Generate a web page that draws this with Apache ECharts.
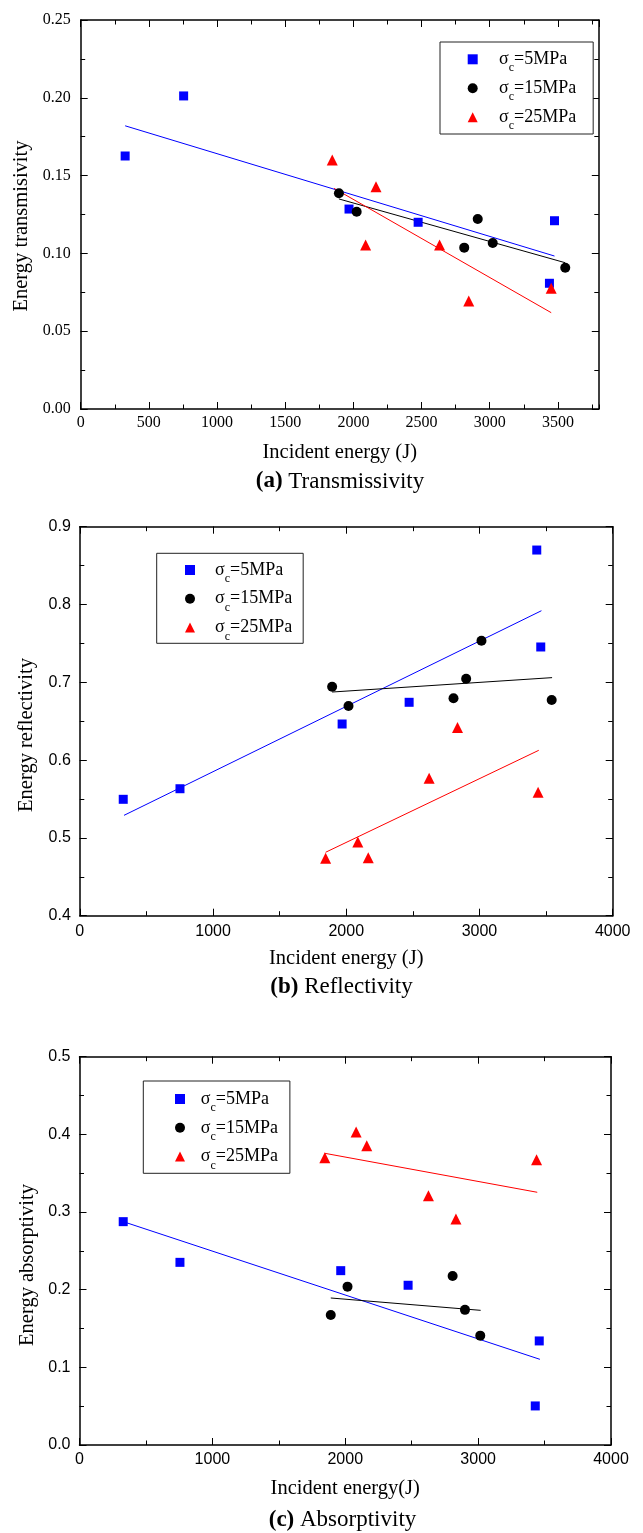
<!DOCTYPE html>
<html>
<head>
<meta charset="utf-8">
<script src="https://cdn.jsdelivr.net/npm/echarts@6/dist/echarts.min.js"></script>
<style>
html,body{margin:0;padding:0;background:#fff;}
#chart{width:643px;height:1533px;}
</style>
</head>
<body>
<div id="chart"></div>
<script>
// ================= DATA =================
const seriesNames = ['σc=5MPa', 'σc=15MPa', 'σc=25MPa'];

// (a) Transmissivity  (incident energy J, energy transmissivity)
const transE5  = [326, 755, 1968, 2475, 3475, 3438];
const transV5  = [0.1626, 0.2012, 0.1285, 0.1200, 0.1210, 0.0808];
const transE15 = [1894, 2024, 2813, 2912, 3022, 3554];
const transV15 = [0.1386, 0.1268, 0.1037, 0.1221, 0.1067, 0.0908];
const transE25 = [1845, 2090, 2166, 2632, 2846, 3451];
const transV25 = [0.1600, 0.1054, 0.1429, 0.1054, 0.0694, 0.0776];
const transFitE5  = [326, 3475];  const transFitV5  = [0.1820, 0.0983];
const transFitE15 = [1894, 3554]; const transFitV15 = [0.1350, 0.0940];
const transFitE25 = [1858, 3451]; const transFitV25 = [0.1418, 0.0619];

// (b) Reflectivity
const reflE5  = [326, 752, 1969, 2472, 3430, 3460];
const reflV5  = [0.5496, 0.5632, 0.6464, 0.6743, 0.8700, 0.7454];
const reflE15 = [1894, 2017, 2805, 2900, 3015, 3542];
const reflV15 = [0.6943, 0.6695, 0.6794, 0.7046, 0.7535, 0.6772];
const reflE25 = [1845, 2087, 2165, 2622, 2835, 3440];
const reflV25 = [0.4738, 0.4947, 0.4746, 0.5766, 0.6420, 0.5586];
const reflFitE5  = [332, 3465];  const reflFitV5  = [0.5290, 0.7920];
const reflFitE15 = [1894, 3545]; const reflFitV15 = [0.6875, 0.7060];
const reflFitE25 = [1845, 3445]; const reflFitV25 = [0.4815, 0.6126];

// (c) Absorptivity
const absE5  = [329, 756, 1966, 2473, 3460, 3430];
const absV5  = [0.2876, 0.2352, 0.2245, 0.2057, 0.1340, 0.0503];
const absE15 = [1891, 2017, 2808, 2901, 3016];
const absV15 = [0.1674, 0.2039, 0.2177, 0.1740, 0.1408];
const absE25 = [1846, 2082, 2162, 2626, 2833, 3440];
const absV25 = [0.3700, 0.4030, 0.3854, 0.3210, 0.2910, 0.3674];
const absFitE5  = [329, 3465];  const absFitV5  = [0.2876, 0.1103];
const absFitE15 = [1891, 3019]; const absFitV15 = [0.1893, 0.1734];
const absFitE25 = [1846, 3445]; const absFitV25 = [0.3756, 0.3254];

// axis ranges / tick steps
const transXRange = [0, 3800, 500, 250];   // min, max, major, minor
const transYRange = [0, 0.25, 0.05, 0.025];
const reflXRange  = [0, 4000, 1000, 500];
const reflYRange  = [0.4, 0.9, 0.1, 0.05];
const absXRange   = [0, 4000, 1000, 500];
const absYRange   = [0, 0.5, 0.1, 0.05];

// texts
const xTitles  = ['Incident energy (J)', 'Incident energy (J)', 'Incident energy(J)'];
const yTitles  = ['Energy transmisivity', 'Energy reflectivity', 'Energy absorptivity'];
const capTags  = ['(a)', '(b)', '(c)'];
const capTexts = ['Transmissivity', 'Reflectivity', 'Absorptivity'];
const yDecimals = [2, 1, 1];

// ================= LAYOUT / STYLE =================
const SERIF = '"Liberation Serif","Times New Roman",serif';
const SANS = '"Liberation Sans",Arial,sans-serif';
const colors = ['#0000ff', '#000000', '#ff0000'];
const symbols = ['rect', 'circle', 'triangle'];
const symbolSizes = [9, 10, 11];

const layouts = [
  {grid:{left:80.7, top:20, width:518.1, height:389}, tickFont:SERIF, xLM:6, yLM:10, nameGap:33,
   legend:{left:440, top:42, padding:[2.3,17,1.7,27.7], gap:-1, textPad:16.3},
   yTitle:[22, 226], caption:[340, 481.5], showMaxX:false},
  {grid:{left:79.8, top:526.7, width:532.9, height:389}, tickFont:SANS, xLM:8, yLM:9, nameGap:32,
   legend:{left:156.7, top:553.3, padding:[1.7,11,0.9,28.3], gap:-1.3, textPad:15},
   yTitle:[27, 735], caption:[341.5, 987], showMaxX:true},
  {grid:{left:79.5, top:1056.7, width:531.5, height:388.3}, tickFont:SANS, xLM:7, yLM:9, nameGap:33,
   legend:{left:143.3, top:1081, padding:[3,12,1.7,31.7], gap:-1.2, textPad:10.7},
   yTitle:[28, 1265], caption:[342.5, 1520], showMaxX:true}
];

const panelData = [
  {xr:transXRange, yr:transYRange,
   pts:[[transE5,transV5],[transE15,transV15],[transE25,transV25]],
   fits:[[transFitE5,transFitV5],[transFitE15,transFitV15],[transFitE25,transFitV25]]},
  {xr:reflXRange, yr:reflYRange,
   pts:[[reflE5,reflV5],[reflE15,reflV15],[reflE25,reflV25]],
   fits:[[reflFitE5,reflFitV5],[reflFitE15,reflFitV15],[reflFitE25,reflFitV25]]},
  {xr:absXRange, yr:absYRange,
   pts:[[absE5,absV5],[absE15,absV15],[absE25,absV25]],
   fits:[[absFitE5,absFitV5],[absFitE15,absFitV15],[absFitE25,absFitV25]]}
];

function zip(xs, ys) { return xs.map((x, i) => [x, ys[i]]); }

function buildAxes(dim, gi, r, L) {
  const pos = dim === 'x' ? ['bottom', 'top'] : ['left', 'right'];
  const common = {type:'value', gridIndex:gi, min:r[0], max:r[1],
    splitLine:{show:false}, axisLabel:{show:false}, axisLine:{show:false, onZero:false}};
  const tickStyle = {color:'#000', width:1};
  const list = [];
  pos.forEach((p, k) => {
    const major = Object.assign({}, common, {
      position:p, interval:r[2],
      axisLine:{show:true, onZero:false, lineStyle:{color:'#000', width:1.5}},
      axisTick:{show:true, inside:true, length:7, lineStyle:tickStyle}
    });
    if (k === 0) {
      major.axisLabel = {
        show:true, color:'#000', fontFamily:L.tickFont, fontSize:16,
        margin: dim === 'x' ? L.xLM : L.yLM,
        showMinLabel:true,
        showMaxLabel: dim === 'x' ? L.showMaxX : true,
        formatter: dim === 'x' ? (v => String(v)) : (v => v.toFixed(yDecimals[gi]))
      };
      if (dim === 'x') {
        major.name = xTitles[gi];
        major.nameLocation = 'middle';
        major.nameGap = L.nameGap;
        major.nameTextStyle = {fontFamily:SERIF, fontSize:20.5, color:'#000'};
      }
    }
    list.push(major);
    list.push(Object.assign({}, common, {
      position:p, interval:r[3],
      axisTick:{show:true, inside:true, length:4.5, lineStyle:tickStyle}
    }));
  });
  return list;
}

const grids = [], xAxes = [], yAxes = [], series = [], legends = [], graphics = [];

layouts.forEach((L, gi) => {
  const P = panelData[gi];
  grids.push(Object.assign({containLabel:false}, L.grid));
  xAxes.push(...buildAxes('x', gi, P.xr, L));
  yAxes.push(...buildAxes('y', gi, P.yr, L));
  const ax = gi * 4;
  for (let s = 0; s < 3; s++) {
    series.push({
      type:'line', name:'fit' + gi + '_' + s, xAxisIndex:ax, yAxisIndex:ax,
      data:zip(P.fits[s][0], P.fits[s][1]), symbol:'none', silent:true, z:2,
      lineStyle:{color:colors[s], width:1}
    });
  }
  for (let s = 0; s < 3; s++) {
    series.push({
      type:'scatter', name:seriesNames[s], xAxisIndex:ax, yAxisIndex:ax,
      data:zip(P.pts[s][0], P.pts[s][1]), symbol:symbols[s], symbolSize:symbolSizes[s],
      itemStyle:{color:colors[s], opacity:1}, z:3
    });
  }
  const lg = L.legend;
  legends.push({
    data:seriesNames, orient:'vertical', left:lg.left, top:lg.top, padding:lg.padding,
    itemGap:lg.gap, itemWidth:10, itemHeight:10, selectedMode:false,
    borderColor:'#222', borderWidth:1, backgroundColor:'#fff',
    formatter: name => '{p|σ}{s|c}{m|' + name.slice(2) + '}',
    textStyle:{
      fontFamily:SERIF, fontSize:18, color:'#000',
      rich:{
        p:{fontFamily:SERIF, fontSize:18, lineHeight:22, color:'#000', padding:[0,0,0,lg.textPad]},
        m:{fontFamily:SERIF, fontSize:18, lineHeight:22, color:'#000'},
        s:{fontFamily:SERIF, fontSize:12, lineHeight:12, color:'#000', padding:[18,0,0,0]}
      }
    }
  });
  graphics.push({
    type:'text', x:L.yTitle[0], y:L.yTitle[1], rotation:Math.PI / 2,
    style:{text:yTitles[gi], fill:'#000', fontFamily:SERIF, fontSize:20.5, align:'center', verticalAlign:'middle'}
  });
  graphics.push({
    type:'text', x:L.caption[0], y:L.caption[1],
    style:{
      text:'{b|' + capTags[gi] + '} ' + capTexts[gi], fill:'#000', fontFamily:SERIF, fontSize:23,
      align:'center', verticalAlign:'middle',
      rich:{b:{fontFamily:SERIF, fontSize:23, fontWeight:'bold', fill:'#000'}}
    }
  });
});

const chart = echarts.init(document.getElementById('chart'), null, {renderer:'canvas'});
chart.setOption({
  backgroundColor:'#ffffff',
  animation:false,
  textStyle:{fontFamily:SERIF},
  grid:grids,
  xAxis:xAxes,
  yAxis:yAxes,
  legend:legends,
  series:series,
  graphic:graphics
});
</script>
</body>
</html>
